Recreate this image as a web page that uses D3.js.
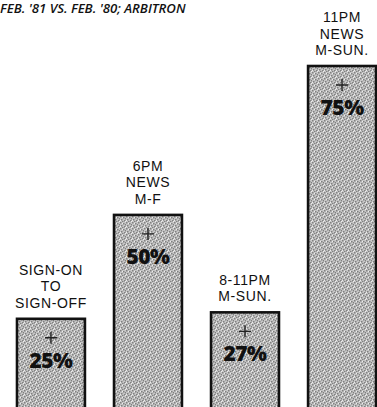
<!DOCTYPE html>
<html>
<head>
<meta charset="utf-8">
<script src="https://cdn.jsdelivr.net/npm/d3@7"></script>
<style>
  html, body { margin: 0; padding: 0; background: #fff; }
  svg { display: block; }
</style>
</head>
<body>
<svg id="chart"></svg>
<script>
const title = "FEB. '81 VS. FEB. '80; ARBITRON";
const categories = [
  ['SIGN-ON', 'TO', 'SIGN-OFF'],
  ['6PM', 'NEWS', 'M-F'],
  ['8-11PM', 'M-SUN.'],
  ['11PM', 'NEWS', 'M-SUN.']
];
const values = [25, 50, 27, 75];

const width = 377, height = 407;

const svg = d3.select('#chart')
  .attr('width', width)
  .attr('height', height);

// stippled grey fill like the printed screen
const defs = svg.append('defs');
const pat = defs.append('pattern')
  .attr('id', 'stipple')
  .attr('patternUnits', 'userSpaceOnUse')
  .attr('width', 6).attr('height', 6);
pat.append('rect').attr('width', 6).attr('height', 6).attr('fill', '#c6c6c6');
[[0, 0], [3, 1], [1, 3], [4, 4], [2, 5], [5, 2]].forEach(([px, py]) => {
  pat.append('rect').attr('x', px).attr('y', py)
    .attr('width', 1.5).attr('height', 1.5).attr('fill', '#808080');
});
[[2, 1], [5, 5], [0, 4]].forEach(([px, py]) => {
  pat.append('rect').attr('x', px).attr('y', py)
    .attr('width', 1).attr('height', 1).attr('fill', '#ededed');
});

svg.append('text')
  .attr('x', 0).attr('y', 13)
  .attr('font-family', 'Open Sans, sans-serif')
  .attr('font-style', 'italic')
  .attr('font-weight', 600)
  .attr('font-size', 13.2)
  .attr('fill', '#111')
  .text(title);

const x = d3.scaleBand()
  .domain(d3.range(values.length))
  .range([17, 376])
  .paddingInner(0.3)
  .paddingOuter(0);

// the original bars are not drawn to a linear scale
const y = d3.scalePow()
  .exponent(1.7)
  .domain([0, 75])
  .range([365, 66]);

svg.selectAll('.bar')
  .data(values)
  .enter()
  .append('rect')
  .attr('class', 'bar')
  .attr('x', (d, i) => x(i))
  .attr('y', d => y(d))
  .attr('width', x.bandwidth())
  .attr('height', d => height + 10 - y(d))
  .attr('fill', 'url(#stipple)')
  .attr('stroke', '#111')
  .attr('stroke-width', 2.6);

// the "+" sign above each percentage
svg.selectAll('.plus')
  .data(values)
  .enter()
  .append('path')
  .attr('class', 'plus')
  .attr('d', (d, i) => {
    const cx = x(i) + x.bandwidth() / 2, cy = y(d) + 19;
    return `M${cx - 6},${cy}H${cx + 6}M${cx},${cy - 6}V${cy + 6}`;
  })
  .attr('stroke', '#222')
  .attr('stroke-width', 1.4)
  .attr('fill', 'none');

svg.selectAll('.pct')
  .data(values)
  .enter()
  .append('text')
  .attr('x', (d, i) => x(i) + x.bandwidth() / 2)
  .attr('y', d => y(d) + 49)
  .attr('text-anchor', 'middle')
  .attr('font-family', 'Open Sans, sans-serif')
  .attr('font-weight', 800)
  .attr('font-size', 21)
  .attr('letter-spacing', -0.5)
  .attr('fill', '#111')
  .text(d => d + '%');

const lbl = svg.selectAll('.lbl')
  .data(values)
  .enter()
  .append('text')
  .attr('class', 'lbl')
  .attr('text-anchor', 'middle')
  .attr('font-family', 'Liberation Sans, Arial, sans-serif')
  .attr('font-size', 14)
  .attr('letter-spacing', 0.6)
  .attr('fill', '#111');

lbl.each(function(d, i) {
  const lines = categories[i];
  const t = d3.select(this);
  lines.forEach((s, j) => {
    t.append('tspan')
      .attr('x', x(i) + x.bandwidth() / 2)
      .attr('y', y(d) - 11 - (lines.length - 1 - j) * 16.5)
      .text(s);
  });
});
</script>
</body>
</html>
